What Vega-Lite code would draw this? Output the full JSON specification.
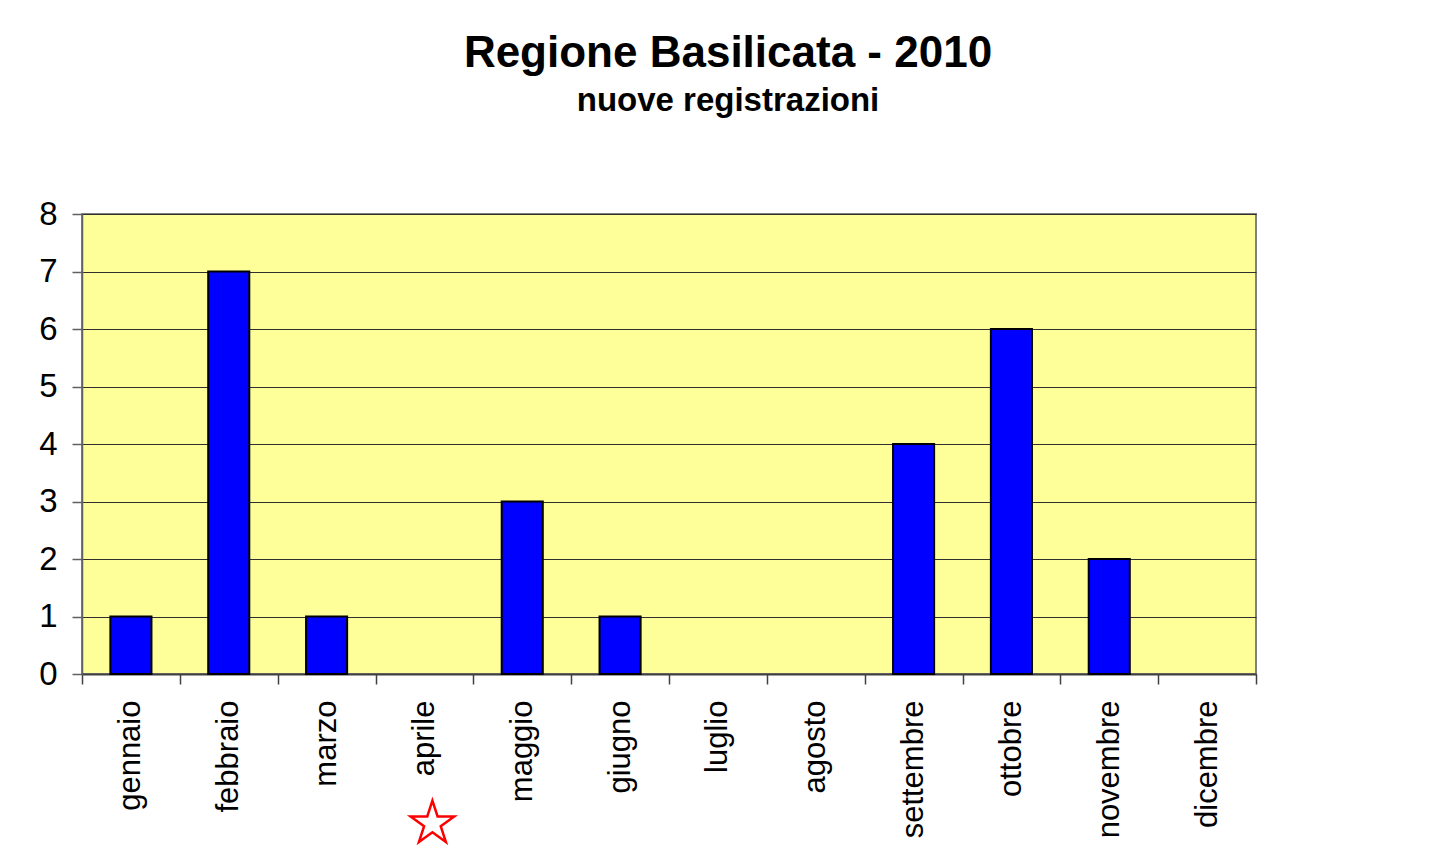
{
  "$schema": "https://vega.github.io/schema/vega-lite/v6.json",
  "width": 1174,
  "height": 460,
  "autosize": {"type": "none"},
  "padding": {"left": 82, "top": 214, "right": 174, "bottom": 180},
  "background": "white",
  "title": {
    "text": "Regione Basilicata - 2010",
    "subtitle": "nuove registrazioni",
    "anchor": "middle",
    "dx": 59,
    "offset": 80,
    "font": "Liberation Sans",
    "fontSize": 44,
    "fontWeight": "bold",
    "color": "black",
    "subtitleFont": "Liberation Sans",
    "subtitleFontSize": 33,
    "subtitleFontWeight": "bold",
    "subtitleColor": "black",
    "subtitlePadding": 9
  },
  "data": {
    "values": [
      {"mese": "gennaio", "n": 1},
      {"mese": "febbraio", "n": 7},
      {"mese": "marzo", "n": 1},
      {"mese": "aprile", "n": 0},
      {"mese": "maggio", "n": 3},
      {"mese": "giugno", "n": 1},
      {"mese": "luglio", "n": 0},
      {"mese": "agosto", "n": 0},
      {"mese": "settembre", "n": 4},
      {"mese": "ottobre", "n": 6},
      {"mese": "novembre", "n": 2},
      {"mese": "dicembre", "n": 0}
    ]
  },
  "encoding": {
    "x": {
      "field": "mese",
      "type": "nominal",
      "sort": null,
      "scale": {"paddingInner": 0, "paddingOuter": 0},
      "axis": {
        "title": null,
        "labelAngle": -90,
        "labelAlign": "right",
        "labelBaseline": "middle",
        "labelFont": "Liberation Sans",
        "labelFontSize": 31,
        "labelColor": "black",
        "labelPadding": 16,
        "tickBand": "extent",
        "tickSize": 10,
        "tickColor": "#404040",
        "tickWidth": 1.5,
        "domainColor": "#404040",
        "domainWidth": 2
      }
    },
    "y": {
      "type": "quantitative",
      "scale": {"domain": [0, 8], "nice": false},
      "axis": {
        "title": null,
        "values": [0, 1, 2, 3, 4, 5, 6, 7, 8],
        "labelOverlap": false,
        "grid": true,
        "gridColor": "#303030",
        "gridWidth": 1,
        "labelFont": "Liberation Sans",
        "labelFontSize": 33,
        "labelColor": "black",
        "labelPadding": 15,
        "tickSize": 10,
        "tickColor": "#606060",
        "tickWidth": 1.5,
        "domainColor": "#606060",
        "domainWidth": 1.5
      }
    }
  },
  "layer": [
    {
      "mark": {"type": "bar", "width": {"band": 0.42}, "color": "#0000FF", "stroke": "black", "strokeWidth": 2},
      "encoding": {
        "y": {"field": "n"},
        "strokeOpacity": {"condition": {"test": "datum.n === 0", "value": 0}, "value": 1}
      }
    },
    {
      "transform": [{"filter": "datum.mese === 'aprile'"}],
      "mark": {
        "type": "point",
        "shape": "M0,-1L0.225,-0.309L0.951,-0.309L0.363,0.118L0.588,0.809L0,0.382L-0.588,0.809L-0.363,0.118L-0.951,-0.309L-0.225,-0.309Z",
        "size": 2100,
        "filled": false,
        "stroke": "#FF0000",
        "strokeWidth": 2.5,
        "opacity": 1,
        "xOffset": 8,
        "clip": false
      },
      "encoding": {
        "y": {"datum": -2.6}
      }
    }
  ],
  "config": {
    "view": {"fill": "#FFFF99", "stroke": "#808080", "strokeWidth": 2}
  }
}
